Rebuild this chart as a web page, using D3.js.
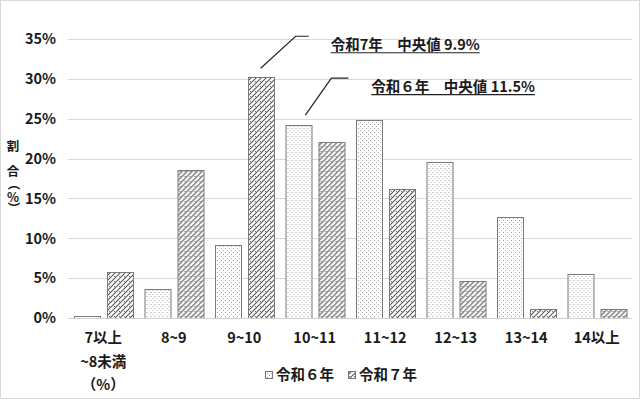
<!DOCTYPE html>
<html>
<head>
<meta charset="utf-8">
<script src="https://cdn.jsdelivr.net/npm/d3@7"></script>
<style>
  html, body { margin: 0; padding: 0; background: #fff; }
  svg { display: block; font-family: "Noto Sans CJK JP", "Noto Sans", sans-serif; }
</style>
</head>
<body>
<svg id="chart" width="640" height="399"></svg>
<script>
// ---- data ----
const categories = ['7以上', '8~9', '9~10', '10~11', '11~12', '12~13', '13~14', '14以上'];
const seriesNames = ['令和６年', '令和７年'];
const r6Values = [0.3, 3.6, 9.1, 24.2, 24.8, 19.6, 12.7, 5.5];
const r7Values = [5.8, 18.6, 30.2, 22.1, 16.2, 4.6, 1.1, 1.1];
const yTicks = [0, 5, 10, 15, 20, 25, 30, 35];
const notes = [
  { text: '令和7年　中央値 9.9%', series: 1, cat: '9~10' },
  { text: '令和６年　中央値 11.5%', series: 0, cat: '10~11' }
];

const W = 640, H = 399;
const margin = { top: 39, right: 8, bottom: 81, left: 68 };
const FONT = 14.5;
const WEIGHT = 700;
const TXT = '#1a1a1a';

const svg = d3.select('#chart');

// frame
svg.append('rect')
  .attr('x', 0.5).attr('y', 0.5)
  .attr('width', W - 1).attr('height', H - 1)
  .attr('fill', '#fff').attr('stroke', '#d9d9d9');

// ---- patterns ----
const defs = svg.append('defs');
const dots = defs.append('pattern')
  .attr('id', 'dots').attr('patternUnits', 'userSpaceOnUse')
  .attr('width', 4).attr('height', 4);
dots.append('rect').attr('width', 4).attr('height', 4).attr('fill', '#fff');
dots.append('rect').attr('x', 0).attr('y', 0).attr('width', 1).attr('height', 1).attr('fill', '#9a9a9a');
dots.append('rect').attr('x', 2).attr('y', 2).attr('width', 1).attr('height', 1).attr('fill', '#b0b0b0');

const hatch = defs.append('pattern')
  .attr('id', 'hatch').attr('patternUnits', 'userSpaceOnUse')
  .attr('width', 5).attr('height', 5);
hatch.append('rect').attr('width', 5).attr('height', 5).attr('fill', '#fff');
hatch.append('path')
  .attr('d', 'M-1,1 l2,-2 M0,5 l5,-5 M4,6 l2,-2')
  .attr('stroke', '#555').attr('stroke-width', 1.1);
hatch.append('rect').attr('x', 1).attr('y', 1).attr('width', 1).attr('height', 1).attr('fill', '#777');

const fills = ['url(#dots)', 'url(#hatch)'];

// ---- scales ----
const x = d3.scaleBand()
  .domain(categories)
  .range([margin.left, W - margin.right]);

const xs = d3.scaleBand()
  .domain([0, 1])
  .range([0, x.bandwidth()])
  .paddingInner(0.21)
  .paddingOuter(0.18);

const y = d3.scaleLinear()
  .domain([0, 35])
  .range([H - margin.bottom, margin.top]);

// ---- grid ----
svg.append('g')
  .selectAll('line')
  .data(yTicks.filter(d => d > 0))
  .join('line')
  .attr('x1', margin.left).attr('x2', W - margin.right)
  .attr('y1', d => Math.round(y(d)) + 0.5).attr('y2', d => Math.round(y(d)) + 0.5)
  .attr('stroke', '#d9d9d9').attr('stroke-width', 1);

// y tick labels
svg.append('g')
  .selectAll('text')
  .data(yTicks)
  .join('text')
  .attr('x', 56)
  .attr('y', d => y(d))
  .attr('dy', '0.36em')
  .attr('text-anchor', 'end')
  .attr('font-size', FONT)
  .attr('font-weight', WEIGHT)
  .attr('fill', TXT)
  .text(d => d + '%');

// ---- bars ----
const rows = categories.map((c, i) => ({ cat: c, vals: [r6Values[i], r7Values[i]] }));
const grp = svg.append('g')
  .selectAll('g')
  .data(rows)
  .join('g')
  .attr('transform', d => `translate(${x(d.cat)},0)`);

grp.selectAll('rect')
  .data(d => d.vals.map((v, s) => ({ v, s })))
  .join('rect')
  .attr('x', d => Math.round(xs(d.s)) + 0.5)
  .attr('y', d => Math.round(y(d.v)) + 0.5)
  .attr('width', Math.round(xs.bandwidth()))
  .attr('height', d => Math.round(y(0)) - Math.round(y(d.v)))
  .attr('fill', d => fills[d.s])
  .attr('stroke', '#7a7a7a')
  .attr('stroke-width', 1);

// baseline
svg.append('line')
  .attr('x1', margin.left).attr('x2', W - margin.right)
  .attr('y1', Math.round(y(0)) + 0.5).attr('y2', Math.round(y(0)) + 0.5)
  .attr('stroke', '#d0d0d0');

// ---- x labels ----
svg.append('g')
  .selectAll('text')
  .data(categories)
  .join('text')
  .attr('x', d => x(d) + x.bandwidth() / 2)
  .attr('y', y(0) + 25)
  .attr('text-anchor', 'middle')
  .attr('font-size', FONT)
  .attr('font-weight', WEIGHT)
  .attr('fill', TXT)
  .text(d => d);

const firstX = x(categories[0]) + x.bandwidth() / 2;
svg.append('text')
  .attr('x', firstX).attr('y', y(0) + 49)
  .attr('text-anchor', 'middle')
  .attr('font-size', FONT).attr('font-weight', WEIGHT).attr('fill', TXT)
  .text('~8未満');
svg.append('text')
  .attr('x', firstX).attr('y', y(0) + 72)
  .attr('text-anchor', 'middle')
  .attr('font-size', FONT).attr('font-weight', WEIGHT).attr('fill', TXT)
  .text('（%）');

// ---- y axis title (vertical, stacked) ----
const title = svg.append('g').attr('font-size', 12.5).attr('font-weight', 700).attr('fill', TXT);
[['割', 147, 0], ['合', 172, 0], ['（', 184, 90], ['%', 198, 0], ['）', 208, 90]].forEach(([ch, cy, rot]) => {
  title.append('text')
    .attr('transform', `translate(13,${cy}) rotate(${rot})`)
    .attr('dy', '0.35em')
    .attr('text-anchor', 'middle')
    .text(ch);
});

// ---- legend ----
const legend = svg.append('g').attr('transform', 'translate(265,375)');
const legendX = [0, 83];
seriesNames.forEach((name, i) => {
  const item = legend.append('g').attr('transform', `translate(${legendX[i]},0)`);
  item.append('rect')
    .attr('x', 0.5).attr('y', -3.5)
    .attr('width', 7).attr('height', 7)
    .attr('fill', fills[i]).attr('stroke', '#777');
  item.append('text')
    .attr('x', 11).attr('y', 0)
    .attr('dy', '0.36em')
    .attr('font-size', FONT).attr('font-weight', WEIGHT).attr('fill', TXT)
    .text(name);
});

// ---- median annotations ----
// leader geometry: offset from bar top, rise, horizontal stub, text gap
const leaders = [
  { ox: 0, oy: -9, dx: 35, dy: -32, stub: 13, gap: 22 },
  { ox: 7, oy: -10, dx: 26, dy: -37, stub: 17, gap: 23 }
];
notes.forEach((n, i) => {
  const L = leaders[i];
  const idx = categories.indexOf(n.cat);
  const v = n.series === 0 ? r6Values[idx] : r7Values[idx];
  const bx = x(n.cat) + xs(n.series) + xs.bandwidth() / 2 + L.ox;
  const by = y(v) + L.oy;
  const ex = bx + L.dx, ey = by + L.dy;
  svg.append('polyline')
    .attr('points', `${bx},${by} ${ex},${ey} ${ex + L.stub},${ey}`)
    .attr('fill', 'none').attr('stroke', '#222').attr('stroke-width', 1.2);
  const t = svg.append('text')
    .attr('x', ex + L.stub + L.gap).attr('y', ey + 14)
    .attr('font-size', FONT).attr('font-weight', WEIGHT).attr('fill', TXT)
    .text(n.text);
  const bb = t.node().getBBox();
  svg.append('line')
    .attr('x1', bb.x).attr('x2', bb.x + bb.width)
    .attr('y1', ey + 16.5).attr('y2', ey + 16.5)
    .attr('stroke', '#222').attr('stroke-width', 1.2);
});
</script>
</body>
</html>
